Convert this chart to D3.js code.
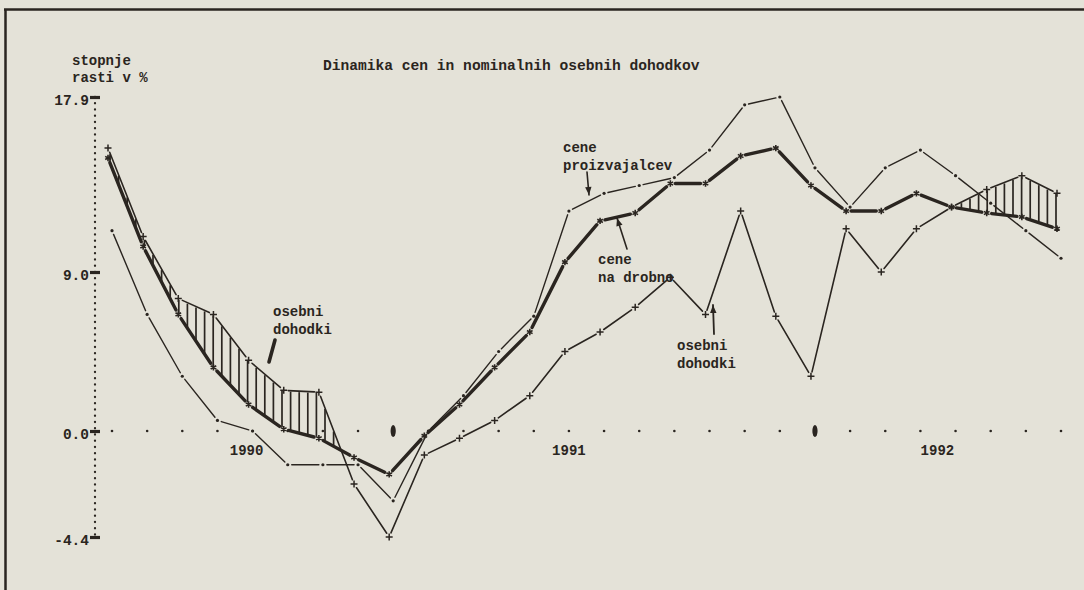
<!DOCTYPE html>
<html><head><meta charset="utf-8">
<script src="https://cdn.jsdelivr.net/npm/d3@7"></script>
<style>
body{margin:0;background:#e4e2d8}
svg{display:block}
text{font-family:"Liberation Mono","DejaVu Sans Mono",monospace;font-weight:bold;fill:#2a2520}
</style>
</head><body>
<svg id="c" width="1084" height="590"></svg>
<script>
// ---------- data ----------
const months = ["1990-05","1990-06","1990-07","1990-08","1990-09","1990-10","1990-11","1990-12",
  "1991-01","1991-02","1991-03","1991-04","1991-05","1991-06","1991-07","1991-08","1991-09","1991-10","1991-11","1991-12",
  "1992-01","1992-02","1992-03","1992-04","1992-05","1992-06","1992-07","1992-08"];
const producerPrices = [11.1,6.6,3.1,0.6,0.0,-1.4,-1.4,-1.4,-2.9,0.0,2.0,4.5,6.5,12.1,13.0,13.4,13.8,15.2,17.5,17.9,14.3,12.3,14.3,15.2,13.9,12.5,11.1,9.7];
const retailPrices   = [14.8,10.3,6.6,3.6,1.5,0.1,-0.3,-1.1,-1.8,-0.2,1.5,3.6,5.6,9.5,11.6,12.0,13.5,13.5,14.9,15.3,13.4,12.1,12.1,13.0,12.3,12.0,11.8,11.2];
const personalIncomes= [15.3,10.8,7.5,6.6,4.0,2.3,2.2,-2.2,-4.4,-1.0,-0.3,0.6,2.0,4.5,5.6,7.0,8.7,6.6,12.1,6.5,3.1,11.2,9.0,11.2,12.3,13.2,13.9,13.0];
const yTicks = [-4.4, 0, 9, 17.9];
const yTickLabels = ["-4.4","0.0","9.0","17.9"];
const yearMarks = ["1991-01","1992-01"];
const yearLabels = ["1990","1991","1992"];
const yearAnchors = ["1990-09","1991-06","1992-04"];
const title = "Dinamika cen in nominalnih osebnih dohodkov";
const yTitle = ["stopnje","rasti v %"];

// ---------- layout ----------
const ink = "#2a2520";
const svg = d3.select("#c");
const x = d3.scalePoint().domain(months).range([112, 1061]);
const y = d3.scaleLinear().domain(yTicks).range([537, 431, 272, 97]);

// frame
svg.append("line").attr("x1",5.5).attr("x2",5.5).attr("y1",9).attr("y2",590).attr("stroke",ink).attr("stroke-width",2.5);
svg.append("line").attr("x1",4).attr("x2",1084).attr("y1",9.5).attr("y2",9.5).attr("stroke",ink).attr("stroke-width",2.5);

// title
svg.append("text").attr("x",323).attr("y",70).attr("font-size",14.6).text(title);
svg.append("g").selectAll("text").data(yTitle).join("text")
  .attr("x",72).attr("y",(d,i)=>65+i*17).attr("font-size",14).text(d=>d);

// y axis (dotted)
const yDots = d3.range(y(17.9), y(-4.4)+1, 6.25);
svg.append("g").selectAll("circle").data(yDots).join("circle")
  .attr("cx",95).attr("cy",d=>d).attr("r",1.15).attr("fill",ink);
const yAxis = d3.axisLeft(y).tickValues(yTicks).tickSize(10).tickPadding(1)
  .tickFormat((d,i)=>yTickLabels[i]);
const ga = svg.append("g").attr("transform","translate(100,0)").call(yAxis);
ga.select(".domain").remove();
ga.selectAll(".tick line").attr("stroke",ink).attr("stroke-width",3.2);
ga.selectAll(".tick text").attr("font-size",14.5).attr("dy","0.55em").attr("fill",ink)
  .style("font-family","'Liberation Mono',monospace").style("font-weight","bold");

// x axis dotted zero line
svg.append("g").selectAll("circle").data(months.filter(m=>!yearMarks.includes(m))).join("circle")
  .attr("cx",d=>x(d)).attr("cy",y(0)).attr("r",1.3).attr("fill",ink);
svg.append("g").selectAll("ellipse").data(yearMarks).join("ellipse")
  .attr("cx",d=>x(d)).attr("cy",y(0)).attr("rx",2.6).attr("ry",6).attr("fill",ink);
const yearDx = [-6, 0, 17];
svg.append("g").selectAll("text").data(yearLabels).join("text")
  .attr("x",(d,i)=>x(yearAnchors[i])+yearDx[i]).attr("y",455).attr("text-anchor","middle")
  .attr("font-size",14).text(d=>d);

// series helpers
function pts(values, dx){ return months.map((m,i)=>[x(m)+dx, y(values[i])]); }
function segments(g, p, gap, width, dash){
  const segs = d3.pairs(p).map(([a,b])=>{
    const dx=b[0]-a[0], dy=b[1]-a[1], L=Math.hypot(dx,dy), ux=dx/L, uy=dy/L;
    return [a[0]+ux*gap, a[1]+uy*gap, b[0]-ux*gap, b[1]-uy*gap];
  });
  g.selectAll("line.s").data(segs).join("line").attr("class","s")
    .attr("x1",d=>d[0]).attr("y1",d=>d[1]).attr("x2",d=>d[2]).attr("y2",d=>d[3])
    .attr("stroke",ink).attr("stroke-width",width).attr("stroke-linecap","round")
    .attr("stroke-dasharray",dash||null);
}

const pP = pts(producerPrices, 0);
const pR = pts(retailPrices, -4);
const pI = pts(personalIncomes, -4);

// hatching where incomes exceed retail prices
const incY = d3.scaleLinear().domain(pI.map(d=>d[0])).range(pI.map(d=>d[1]));
const retY = d3.scaleLinear().domain(pR.map(d=>d[0])).range(pR.map(d=>d[1]));
const hx = d3.range(pI[0][0]+2, pI[pI.length-1][0]+0.5, 8.6)
  .filter(v=> retY(v) - incY(v) > 3);
svg.append("g").selectAll("line").data(hx).join("line")
  .attr("x1",d=>d).attr("x2",d=>d).attr("y1",d=>incY(d)+1).attr("y2",d=>retY(d)-1)
  .attr("stroke",ink).attr("stroke-width",1.7);

// producer prices: thin, dots at points
const gP = svg.append("g");
segments(gP, pP, 4, 1.4);
gP.selectAll("circle").data(pP).join("circle").attr("cx",d=>d[0]).attr("cy",d=>d[1]).attr("r",1.6).attr("fill",ink);

// personal incomes: thin, "+" markers
const gI = svg.append("g");
segments(gI, pI, 4.5, 1.6);
gI.selectAll("path").data(pI).join("path").attr("transform",d=>`translate(${d[0]},${d[1]})`)
  .attr("d","M-3.5,0H3.5M0,-3.5V3.5").attr("stroke",ink).attr("stroke-width",1.5).attr("fill","none");

// retail prices: thick, "*" markers
const gR = svg.append("g");
segments(gR, pR, 5, 3.4);
gR.selectAll("path").data(pR).join("path").attr("transform",d=>`translate(${d[0]},${d[1]})`)
  .attr("d","M0,-3.2V3.2M-2.8,-1.6L2.8,1.6M-2.8,1.6L2.8,-1.6").attr("stroke",ink).attr("stroke-width",1.6).attr("fill","none");

// annotations
const notes = [
  {lines:["osebni","dohodki"], x:273, y:316},
  {lines:["cene","proizvajalcev"], x:563, y:152},
  {lines:["cene","na drobno"], x:598, y:264},
  {lines:["osebni","dohodki"], x:677, y:350}
];
const gn = svg.append("g");
notes.forEach(n=>{
  gn.append("g").selectAll("text").data(n.lines).join("text")
    .attr("x",n.x).attr("y",(d,i)=>n.y+i*17.5).attr("font-size",14).text(d=>d);
});
// arrows
function arrow(x1,y1,x2,y2,w,head){
  svg.append("line").attr("x1",x1).attr("y1",y1).attr("x2",x2).attr("y2",y2)
    .attr("stroke",ink).attr("stroke-width",w).attr("stroke-linecap","round");
  if(head){
    const a=Math.atan2(y2-y1,x2-x1), L=8, W=3.2;
    const bx=x2-Math.cos(a)*L, by=y2-Math.sin(a)*L;
    const nx=-Math.sin(a)*W, ny=Math.cos(a)*W;
    svg.append("path").attr("d",`M${x2},${y2}L${bx+nx},${by+ny}L${bx-nx},${by-ny}Z`).attr("fill",ink);
  }
}
arrow(275,340,269,362,3.6,false);
arrow(587,172,589,195,1.6,true);
arrow(627,249,617,218,1.6,true);
arrow(714,334,713,305,1.8,true);
</script>
</body></html>
